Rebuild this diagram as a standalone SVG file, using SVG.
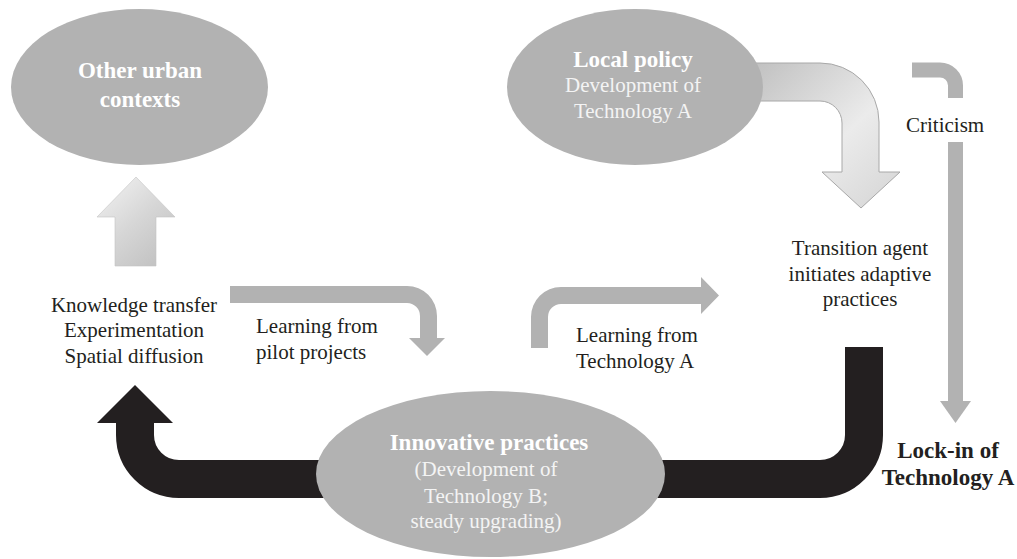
<svg xmlns="http://www.w3.org/2000/svg" width="1017" height="559" viewBox="0 0 1017 559">
<defs>
<linearGradient id="gUp" x1="97" y1="177" x2="175" y2="266" gradientUnits="userSpaceOnUse">
<stop offset="0" stop-color="#f4f4f4"/>
<stop offset="0.5" stop-color="#d6d6d6"/>
<stop offset="1" stop-color="#bdbdbd"/>
</linearGradient>
<linearGradient id="gPol" x1="760" y1="63" x2="900" y2="208" gradientUnits="userSpaceOnUse">
<stop offset="0" stop-color="#c2c2c2"/>
<stop offset="0.55" stop-color="#ebebeb"/>
<stop offset="1" stop-color="#d4d4d4"/>
</linearGradient>
<style>
text{font-family:'Liberation Serif','Tinos','Times New Roman','DejaVu Serif',serif}
.ell{fill:#b2b2b2}
.wb{font-size:23px;font-weight:bold;fill:#ffffff;text-anchor:middle}
.wr{font-size:21px;fill:#f4f4f4;text-anchor:middle}
.t{font-size:21px;fill:#231f20}
.tc{text-anchor:middle}
.tb{font-size:23px;font-weight:bold;fill:#231f20;text-anchor:middle}
.grey{fill:#b2b2b2}
.blk{fill:none;stroke:#231f20;stroke-width:38}
.blkh{fill:#231f20}
.gline{fill:none;stroke:#b2b2b2;stroke-width:15}
</style>
</defs>
<rect width="1017" height="559" fill="#ffffff"/>

<g id="connectors">
<polygon points="115,266 115,217 97,217 136,177 175,217 156,217 156,266" fill="url(#gUp)" stroke="#c4c4c4" stroke-width="0.6"/>
<path d="M 740 63 H 820 A 59 59 0 0 1 879 122 V 172 H 900 L 861 208 L 822 172 H 842 V 123 A 22 22 0 0 0 820 101 H 740 Z" fill="url(#gPol)" stroke="#a8a8a8" stroke-width="1"/>
<path class="gline" d="M 912 70 H 940 A 15.5 15.5 0 0 1 955.5 85.5 V 98"/>
<path class="gline" d="M 955.5 142 V 402"/>
<polygon class="grey" points="940,401 971,401 955.5,423"/>
<path class="grey" d="M 230 286 H 407 A 30 30 0 0 1 437 316 V 338 H 445 L 427 356 L 409 338 H 420 V 316 A 13 13 0 0 0 407 303 H 230 Z"/>
<path class="grey" d="M 531 348 V 317 A 30 30 0 0 1 561 287 H 701 V 277 L 719 295.5 L 701 314 V 304 H 561 A 13 13 0 0 0 548 317 V 348 Z"/>
<path class="blk" d="M 864 347 V 435 A 44 44 0 0 1 820 479 H 490"/>
<path class="blk" d="M 490 479 H 179 A 44 44 0 0 1 135 435 V 422"/>
<polygon class="blkh" points="97,423 135,385 173,423"/>
</g>

<g id="node-other-urban">
<ellipse class="ell" cx="139.5" cy="87" rx="128.5" ry="78"/>
<text class="wb" x="140" y="78">Other urban</text>
<text class="wb" x="140" y="107">contexts</text>
</g>

<g id="node-local-policy">
<ellipse class="ell" cx="635" cy="87" rx="128" ry="78"/>
<text class="wb" x="633" y="67">Local policy</text>
<text class="wr" x="633" y="92">Development of</text>
<text class="wr" x="633" y="118">Technology A</text>
</g>

<g id="node-innovative">
<ellipse class="ell" cx="490.5" cy="474" rx="174.5" ry="83"/>
<text class="wb" x="489" y="450">Innovative practices</text>
<text class="wr" x="486" y="476">(Development of</text>
<text class="wr" x="486" y="503">Technology B;</text>
<text class="wr" x="486" y="528">steady upgrading)</text>
</g>

<g id="node-knowledge">
<text class="t tc" x="134" y="312">Knowledge transfer</text>
<text class="t tc" x="134" y="337">Experimentation</text>
<text class="t tc" x="134" y="363">Spatial diffusion</text>
</g>

<g id="node-transition">
<text class="t tc" x="860" y="255">Transition agent</text>
<text class="t tc" x="860" y="281">initiates adaptive</text>
<text class="t tc" x="860" y="306">practices</text>
</g>

<g id="node-lockin">
<text class="tb" x="948" y="458">Lock-in of</text>
<text class="tb" x="948" y="485">Technology A</text>
</g>

<g id="labels">
<text class="t" x="256" y="333">Learning from</text>
<text class="t" x="256" y="359">pilot projects</text>
<text class="t" x="576" y="342">Learning from</text>
<text class="t" x="576" y="368">Technology A</text>
<text class="t" x="906" y="132">Criticism</text>
</g>
</svg>
